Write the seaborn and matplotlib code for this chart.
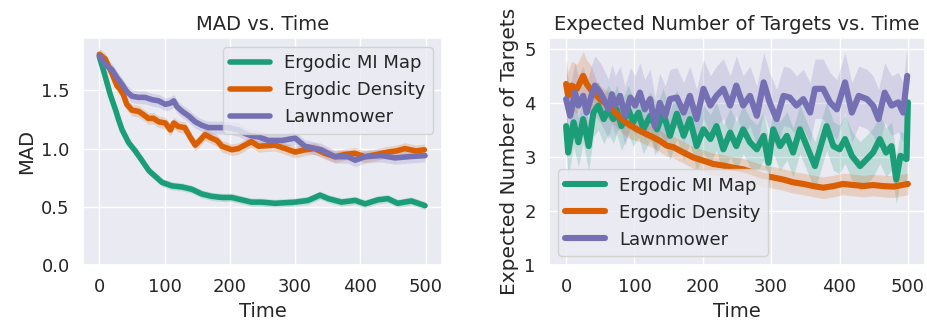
import numpy as np
import matplotlib
matplotlib.use("Agg")
import matplotlib.pyplot as plt
import seaborn as sns

# ---------------- data ----------------
series_names = ["Ergodic MI Map", "Ergodic Density", "Lawnmower"]
colors = ["#1b9e77", "#d95f02", "#7570b3"]

# Left panel: MAD vs. Time
mad_mi_t = [0, 9, 17, 25, 30, 35, 45, 55, 65, 76, 86, 96, 111, 127, 142, 157, 172, 188, 203, 218,
            233, 249, 269, 300, 320, 338, 351, 371, 392, 407, 427, 442, 457, 478, 499]
mad_mi_v = [1.79, 1.62, 1.46, 1.33, 1.24, 1.16, 1.05, 0.98, 0.90, 0.81, 0.76, 0.71, 0.68, 0.67, 0.65,
            0.61, 0.59, 0.58, 0.58, 0.56, 0.54, 0.54, 0.53, 0.54, 0.555, 0.60, 0.57, 0.54, 0.555,
            0.525, 0.56, 0.57, 0.53, 0.55, 0.51]
mad_dens_t = [0, 9, 19, 27, 32, 37, 42, 50, 60, 68, 75, 83, 91, 101, 109, 114, 121, 131, 139, 147,
              154, 162, 172, 180, 188, 203, 213, 223, 233, 244, 269, 285, 300, 315, 330, 345, 361,
              376, 391, 407, 425, 442, 455, 468, 485, 498]
mad_dens_v = [1.81, 1.77, 1.65, 1.54, 1.51, 1.46, 1.38, 1.33, 1.32, 1.29, 1.26, 1.26, 1.23, 1.22,
              1.16, 1.22, 1.19, 1.18, 1.10, 1.03, 1.07, 1.12, 1.09, 1.07, 1.02, 0.99, 1.00, 1.03,
              1.06, 1.02, 1.03, 1.00, 0.97, 0.99, 1.00, 0.96, 0.93, 0.95, 0.96, 0.93, 0.95, 0.97,
              0.98, 1.00, 0.98, 0.99]
mad_lawn_t = [0, 9, 19, 27, 35, 42, 50, 60, 70, 81, 91, 101, 109, 114, 119, 127, 137, 147, 157, 167,
              177, 188, 198, 213, 223, 233, 244, 259, 280, 300, 315, 340, 361, 381, 392, 407, 432,
              453, 473, 499]
mad_lawn_v = [1.80, 1.72, 1.68, 1.61, 1.55, 1.49, 1.45, 1.44, 1.44, 1.42, 1.41, 1.38, 1.39, 1.41,
              1.36, 1.32, 1.28, 1.23, 1.20, 1.18, 1.18, 1.18, 1.18, 1.16, 1.13, 1.11, 1.10, 1.07,
              1.07, 1.09, 1.02, 0.99, 0.93, 0.93, 0.90, 0.93, 0.94, 0.92, 0.93, 0.94]
mad_halfwidth = [0.035, 0.05, 0.055]

# Right panel: Expected Number of Targets vs. Time
ent_mi_t = [0, 3, 11, 18, 25, 33, 40, 47, 55, 62, 69, 74, 81, 91, 98, 106, 113, 123, 133, 142,
            152, 162, 172, 181, 191, 201, 211, 220, 230, 240, 249, 259, 269, 279, 289, 296, 303,
            313, 323, 332, 342, 352, 364, 374, 381, 391, 400, 408, 418, 430, 440, 449, 459, 468,
            476, 483, 489, 498, 500]
ent_mi_v = [3.57, 3.08, 3.64, 3.27, 3.70, 3.20, 3.82, 3.95, 3.70, 3.88, 3.70, 3.88, 3.57, 3.88,
            3.64, 3.82, 3.51, 3.76, 3.51, 3.82, 3.39, 3.80, 3.39, 3.70, 3.20, 3.51, 3.33, 3.57,
            3.14, 3.45, 3.20, 3.51, 3.27, 3.14, 3.39, 2.89, 3.51, 3.20, 3.39, 3.08, 3.51, 3.20,
            2.83, 3.27, 3.57, 3.20, 3.14, 3.33, 3.02, 2.83, 2.96, 3.08, 3.33, 3.08, 3.20, 2.58,
            3.02, 2.96, 4.01]
ent_dens_t = [0, 3, 8, 16, 25, 30, 37, 45, 52, 59, 67, 74, 84, 94, 108, 123, 137, 147, 157, 172,
              186, 201, 215, 230, 245, 259, 274, 288, 303, 318, 332, 347, 362, 376, 391, 405, 420,
              435, 449, 464, 479, 500]
ent_dens_v = [4.35, 4.13, 4.32, 4.26, 4.50, 4.35, 4.23, 4.13, 4.04, 3.98, 3.89, 3.79, 3.67, 3.58,
              3.48, 3.39, 3.30, 3.21, 3.18, 3.08, 2.99, 2.93, 2.87, 2.84, 2.80, 2.77, 2.71, 2.65,
              2.62, 2.58, 2.53, 2.50, 2.46, 2.43, 2.46, 2.50, 2.48, 2.46, 2.48, 2.46, 2.45, 2.50]
ent_dens_hw = [0.45] * 7 + [0.25] * 7 + [0.2] * 28
ent_lawn_t = [0, 6, 13, 18, 25, 30, 37, 42, 50, 55, 62, 67, 72, 79, 86, 94, 101, 108, 115, 123,
              130, 137, 145, 152, 162, 172, 181, 191, 201, 211, 220, 230, 240, 249, 259, 269, 279,
              289, 298, 308, 318, 327, 337, 347, 357, 364, 376, 386, 396, 408, 418, 428, 440, 449,
              457, 466, 476, 486, 493, 499]
ent_lawn_v = [4.07, 3.76, 4.19, 3.95, 4.13, 3.82, 4.13, 4.32, 4.19, 4.07, 3.88, 4.16, 3.95, 4.13,
              3.76, 4.10, 3.95, 4.19, 3.88, 4.07, 3.57, 4.00, 3.76, 4.07, 4.10, 3.82, 4.13, 3.70,
              4.26, 3.95, 4.13, 4.26, 3.95, 4.32, 3.95, 4.13, 3.76, 4.38, 4.00, 3.70, 4.13, 4.10,
              3.95, 4.07, 3.82, 4.26, 4.26, 4.01, 3.88, 4.38, 3.82, 4.13, 4.07, 3.95, 3.70, 4.19,
              3.95, 4.01, 3.82, 4.50]
ent_halfwidth = [0.45, None, 0.55]

x_ticks = [0, 100, 200, 300, 400, 500]

# ---------------- plotting ----------------
sns.set_theme(style="darkgrid")
plt.rcParams["font.family"] = ["DejaVu Sans"]

fig = plt.figure(figsize=(9.28, 3.24), dpi=100)
axL = fig.add_axes([83 / 928, 59 / 324, 359 / 928, 227 / 324])
axR = fig.add_axes([549 / 928, 59 / 324, 376 / 928, 227 / 324])

LW_L = 4.0
LW_R = 4.4

left_data = [(mad_mi_t, mad_mi_v), (mad_dens_t, mad_dens_v), (mad_lawn_t, mad_lawn_v)]
for (t, v), name, c, hw in zip(left_data, series_names, colors, mad_halfwidth):
    t = np.asarray(t, float)
    v = np.asarray(v, float)
    axL.fill_between(t, v - hw, v + hw, color=c, alpha=0.2, lw=0)
    sns.lineplot(x=t, y=v, ax=axL, color=c, lw=LW_L, label=name)

right_data = [(ent_mi_t, ent_mi_v), (ent_dens_t, ent_dens_v), (ent_lawn_t, ent_lawn_v)]
for (t, v), name, c, hw in zip(right_data, series_names, colors, ent_halfwidth):
    t = np.asarray(t, float)
    v = np.asarray(v, float)
    h = np.asarray(ent_dens_hw, float) if hw is None else hw
    axR.fill_between(t, v - h, v + h, color=c, alpha=0.2, lw=0)
    sns.lineplot(x=t, y=v, ax=axR, color=c, lw=LW_R, label=name)

axL.set_xlim(-25, 525)
axL.set_ylim(0, 1.95)
axL.set_yticks([0.0, 0.5, 1.0, 1.5])
axL.set_xticks(x_ticks)
axL.set_title("MAD vs. Time", fontsize=14)
axL.set_xlabel("Time", fontsize=14)
axL.set_ylabel("MAD", fontsize=14)

axR.set_xlim(-25, 525)
axR.set_ylim(1, 5.2)
axR.set_yticks([1, 2, 3, 4, 5])
axR.set_xticks(x_ticks)
axR.set_title("Expected Number of Targets vs. Time", fontsize=14)
axR.set_xlabel("Time", fontsize=14)
axR.set_ylabel("Expected Number of Targets", fontsize=14.5)

for ax in (axL, axR):
    ax.tick_params(axis="both", labelsize=13)

axL.legend(loc="upper right", fontsize=13, handlelength=2.2)
axR.legend(loc="lower left", fontsize=13, handlelength=2.2)

fig.savefig("out.png", dpi=100)
